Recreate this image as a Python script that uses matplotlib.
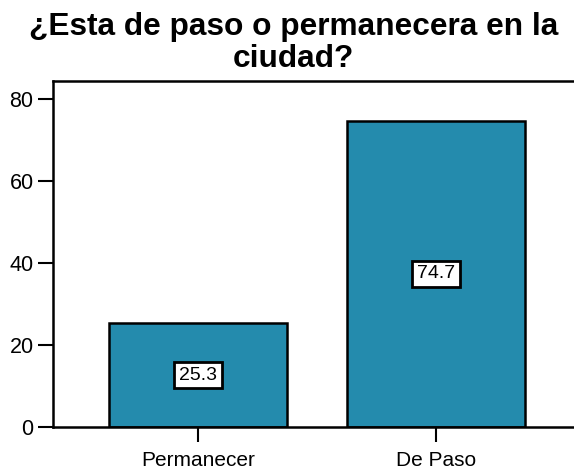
import matplotlib
matplotlib.use("Agg")
import matplotlib.pyplot as plt

# Survey answers (percent)
categories = ["Permanecer", "De Paso"]
percent = [25.3, 74.7]
title = "¿Esta de paso o permanecera en la\nciudad?"

plt.rcParams['font.family'] = ['Liberation Sans', 'DejaVu Sans']

fig = plt.figure(figsize=(5.74, 4.70), dpi=100)
ax = fig.add_axes([0.0923, 0.0915, 0.915, 0.7362])

pos = list(range(len(categories)))
bars = ax.bar(pos, percent, width=0.75, color="#248BAD",
              edgecolor="black", linewidth=1.8)

for p, v in zip(pos, percent):
    ax.text(p, v / 2, f"{v:.1f}", ha="center", va="center", fontsize=14,
            bbox=dict(boxstyle="square,pad=0.25", facecolor="white",
                      edgecolor="black", linewidth=2))

ax.set_xlim(-0.611, 1.60)
ax.set_ylim(0, 84.4)
ax.set_yticks([0, 20, 40, 60, 80])
ax.set_xticks(pos)
ax.set_xticklabels(categories)

for s in ax.spines.values():
    s.set_linewidth(1.8)
ax.spines["right"].set_visible(False)
ax.tick_params(axis="both", direction="out", length=11, width=1.5,
               labelsize=15.5, pad=3)
ax.tick_params(axis="x", labelsize=15, pad=6)

fig.text(0.512, 0.975, title, ha="center", va="top", fontsize=22.8,
         fontweight="bold", linespacing=1.1)

fig.savefig("out.png", dpi=100)
